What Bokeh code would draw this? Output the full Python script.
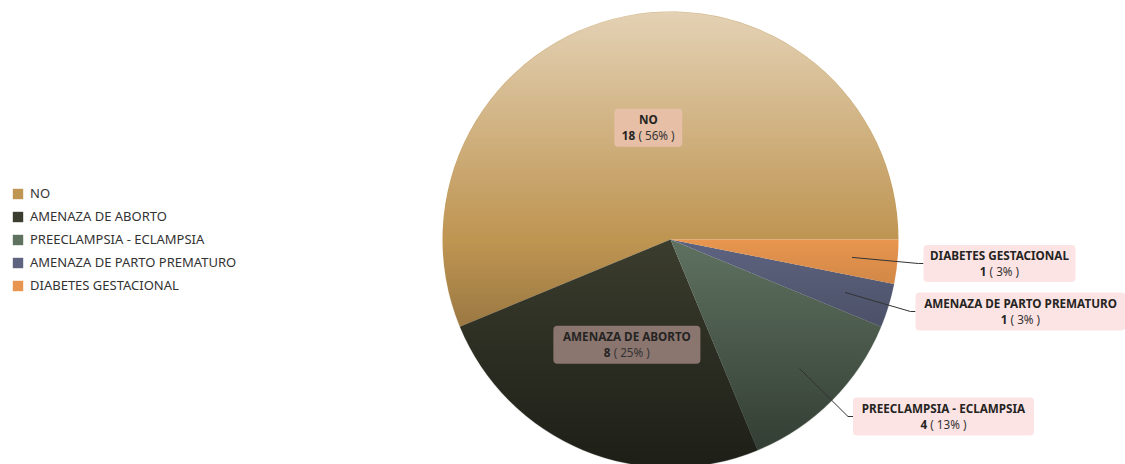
import numpy as np
from bokeh.plotting import figure
from bokeh.models import ColumnDataSource, Range1d, Legend, LegendItem
from bokeh.core.properties import value
from bokeh.embed import file_html
from bokeh.resources import INLINE

# ---------------- data ----------------
categories = ["NO", "AMENAZA DE ABORTO", "PREECLAMPSIA - ECLAMPSIA",
              "AMENAZA DE PARTO PREMATURO", "DIABETES GESTACIONAL"]
counts = [18, 8, 4, 1, 1]
colors = ["#bf9552", "#3b3d2e", "#5f7260", "#5e6480", "#e8964f"]

# ---------------- layout ----------------
W, H = 1125, 464
CX, CY, R = 670, 225, 228
inside = [True, True, False, False, False]
box_w = [68, 147, 181, 210, 152]
box_h = [38, 38, 38, 38, 37]
box_fill = ["#e6bfa6", "#8b766f", "#fde4e4", "#fde4e4", "#fde4e4"]
outside_center = {2: (943, 48), 3: (1020, 153), 4: (999, 201)}
FONT = "Noto Sans"
FS = 11.7

total = sum(counts)
ang = np.array(counts) / total * 2 * np.pi
ends = np.cumsum(ang)
starts = ends - ang
mids = (starts + ends) / 2

p = figure(width=W, height=H, x_range=Range1d(0, W), y_range=Range1d(0, H),
           output_backend="svg", toolbar_location=None, min_border=0)
p.axis.visible = False
p.grid.visible = False
p.outline_line_color = None
p.background_fill_color = "white"
p.border_fill_color = "white"

src = ColumnDataSource(dict(cat=categories, val=counts, start=starts, end=ends,
                            color=colors))
wr = p.wedge(x=CX, y=CY, radius=R, start_angle="start", end_angle="end",
             direction="anticlock", fill_color="color", line_color=None, source=src)

# vertical shading overlay (light at top, dark at bottom), masked to the pie disc
N = 2 * R
yy, xx = np.mgrid[0:N, 0:N] + 0.5
d = np.hypot(xx - R, yy - R)
cover = np.clip(R - d + 0.5, 0, 1)
t = yy / N
a_white = np.clip((t - 0.5) * 1.15, 0, 0.58)
a_black = np.clip((0.5 - t) * 1.0, 0, 0.5)
img = np.zeros((N, N, 4), dtype=np.uint8)
white_mask = a_white > 0
img[..., 0] = np.where(white_mask, 255, 0)
img[..., 1] = np.where(white_mask, 255, 0)
img[..., 2] = np.where(white_mask, 255, 0)
img[..., 3] = (np.maximum(a_white, a_black) * cover * 255).astype(np.uint8)
p.image_rgba(image=[img.view(np.uint32).reshape(N, N)], x=CX - R, y=CY - R, dw=N, dh=N)

# labels
lx, ly = [], []
for i in range(len(categories)):
    if inside[i]:
        lx.append(CX + 0.5 * R * np.cos(mids[i]))
        ly.append(CY + 0.5 * R * np.sin(mids[i]))
    else:
        lx.append(outside_center[i][0])
        ly.append(outside_center[i][1])

# leader lines for outside labels
for i in range(len(categories)):
    if inside[i]:
        continue
    sx = CX + 0.8 * R * np.cos(mids[i])
    sy = CY + 0.8 * R * np.sin(mids[i])
    left = lx[i] - box_w[i] / 2
    p.line([sx, left - 5, left], [sy, ly[i], ly[i]], line_color="#333333", line_width=1)

p.quad(left=[x - w / 2 for x, w in zip(lx, box_w)],
       right=[x + w / 2 for x, w in zip(lx, box_w)],
       top=[y + h / 2 for y, h in zip(ly, box_h)],
       bottom=[y - h / 2 for y, h in zip(ly, box_h)],
       fill_color=box_fill, line_color=None, border_radius=4)

p.text(x=lx, y=[y + 8.5 for y in ly], text=categories,
       text_font=value(FONT), text_font_style="bold", text_font_size=f"{FS}px",
       text_color="#252423", text_align="center", text_baseline="middle")

pct = [f"( {int(v * 100 / total + 0.5)}% )" for v in counts]
num = [str(v) for v in counts]
k = FS / 11.0

def w_num(s):
    return 6.4 * k * len(s)

def w_pct(s):
    cw = {"(": 3.3, ")": 3.3, " ": 2.9, "%": 9.1}
    return k * sum(cw.get(c, 6.3) for c in s)

nx, px_ = [], []
for i in range(len(categories)):
    tot = w_num(num[i]) + 3 + w_pct(pct[i])
    x0 = lx[i] - tot / 2
    nx.append(x0)
    px_.append(x0 + w_num(num[i]) + 3)
p.text(x=nx, y=[y - 7.5 for y in ly], text=num,
       text_font=value(FONT), text_font_style="bold", text_font_size=f"{FS}px",
       text_color="#252423", text_align="left", text_baseline="middle")
p.text(x=px_, y=[y - 7.5 for y in ly], text=pct,
       text_font=value(FONT), text_font_size=f"{FS}px",
       text_color="#333333", text_align="left", text_baseline="middle")

legend = Legend(items=[LegendItem(label=c, renderers=[wr], index=i)
                       for i, c in enumerate(categories)],
                location=(11, 170), padding=0, margin=0, spacing=5,
                glyph_width=13, glyph_height=13, label_standoff=6,
                label_text_font=FONT, label_text_font_size="13px",
                label_text_color="#333333", border_line_color=None,
                background_fill_alpha=0)
p.add_layout(legend)

open("out.html", "w").write(file_html(p, INLINE))
